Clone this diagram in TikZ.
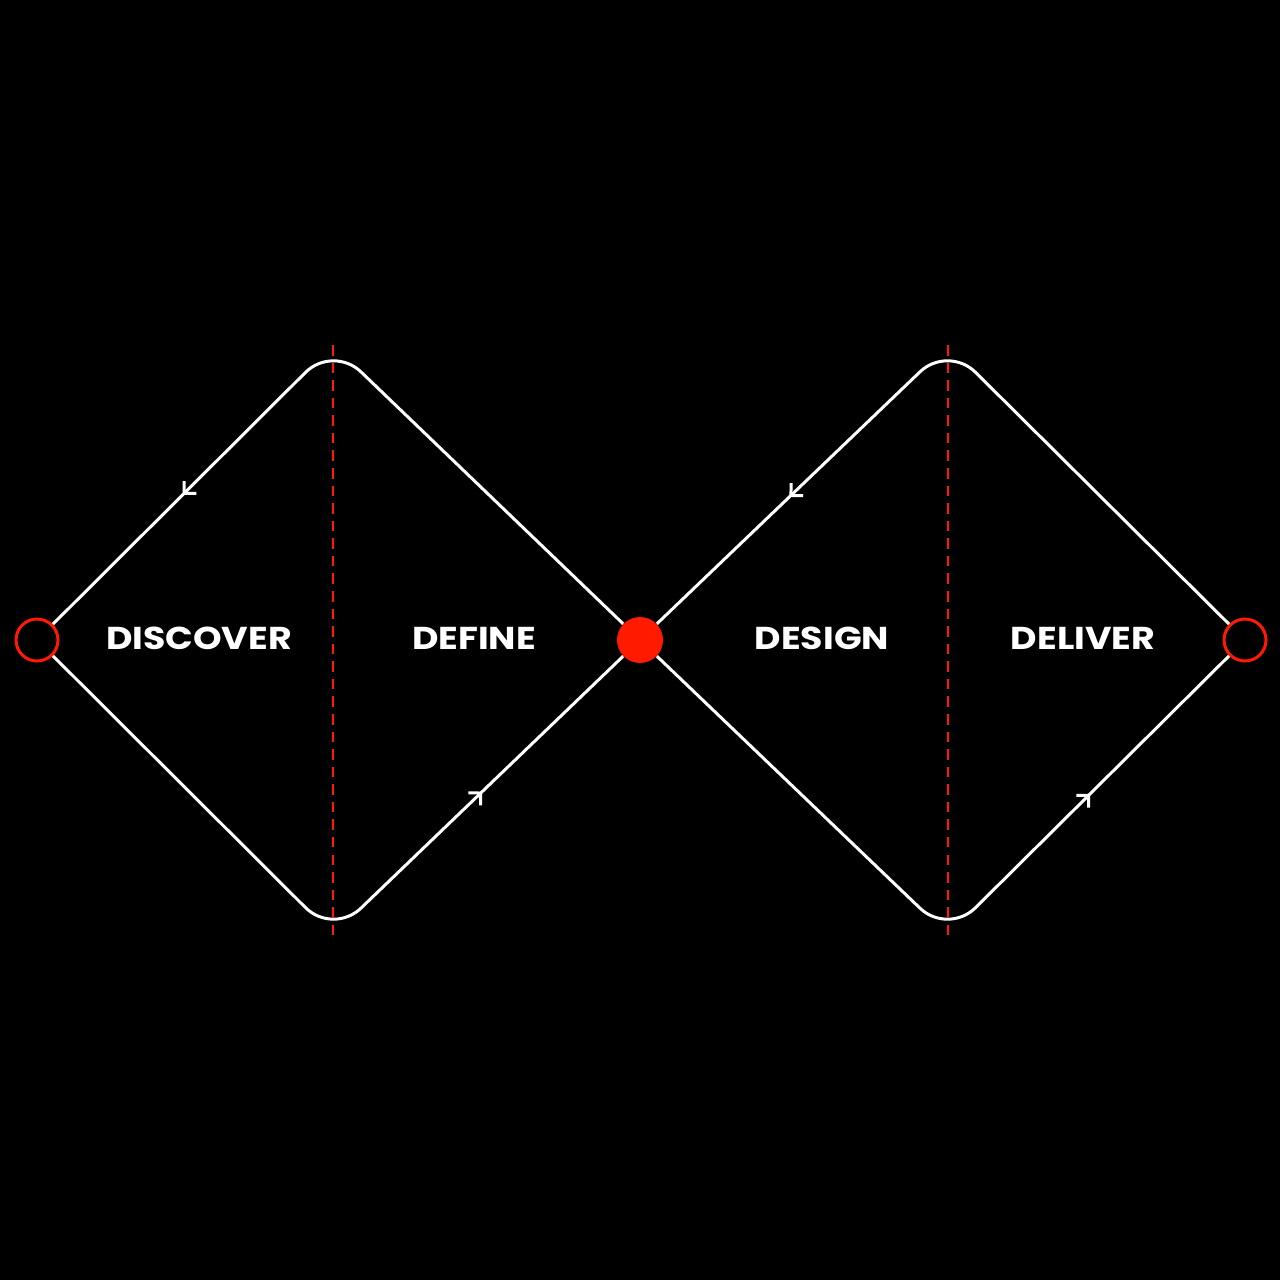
\documentclass[tikz,border=0pt]{standalone}
\usepackage{fontspec}
\newfontfamily\labelfont[FakeStretch=1.15]{Poppins Bold}
\usetikzlibrary{arrows.meta,decorations.markings}
\definecolor{dred}{HTML}{FF1A00}
\tikzset{
  edge/.style={white,line width=1.7pt,rounded corners=22pt},
  divider/.style={dred,line width=1.5pt,dash pattern=on 6pt off 4pt},
  openend/.style={circle,draw=dred,line width=1.7pt,minimum size=42\px,inner sep=0pt},
  midend/.style={circle,fill=dred,minimum size=46\px,inner sep=0pt},
  phase/.style={text=white,font=\labelfont\fontsize{18}{18}\selectfont},
  backarrow/.style={postaction={decorate},decoration={markings,mark=at position 0.25 with
    {\arrow[white,line width=1.7pt]{Straight Barb[reversed,angle=90:7pt]}}}},
  fwdarrow/.style={postaction={decorate},decoration={markings,mark=at position 0.75 with
    {\arrow[white,line width=1.7pt]{Straight Barb[angle=90:7pt]}}}},
}
\def\px{*0.02cm}
\begin{document}
\begin{tikzpicture}[x=0.02cm,y=-0.02cm]
	% background
	\fill[black] (0,0) rectangle (1280,1280);
	\useasboundingbox (0,0) rectangle (1280,1280);

	% end points
	\node[openend] (s) at (37,640) {};
	\node[midend] (m) at (640,640) {};
	\node[openend] (e) at (1245,640) {};
	\coordinate (t1) at (333,345);
	\coordinate (b1) at (333,935);
	\coordinate (t2) at (948,345);
	\coordinate (b2) at (948,935);

	% first diamond
	\draw[edge,backarrow] (s) -- (t1) -- (m);
	\draw[edge,fwdarrow] (s) -- (b1) -- (m);
	\draw[divider] (t1) -- (b1);

	% second diamond
	\draw[edge,backarrow] (m) -- (t2) -- (e);
	\draw[edge,fwdarrow] (m) -- (b2) -- (e);
	\draw[divider] (t2) -- (b2);

	% labels
	\node[phase] (discover) at (199,638) {DISCOVER};
	\node[phase] (define) at (474,638) {DEFINE};
	\node[phase] (design) at (822,638) {DESIGN};
	\node[phase] (deliver) at (1083,638) {DELIVER};
\end{tikzpicture}
\end{document}
